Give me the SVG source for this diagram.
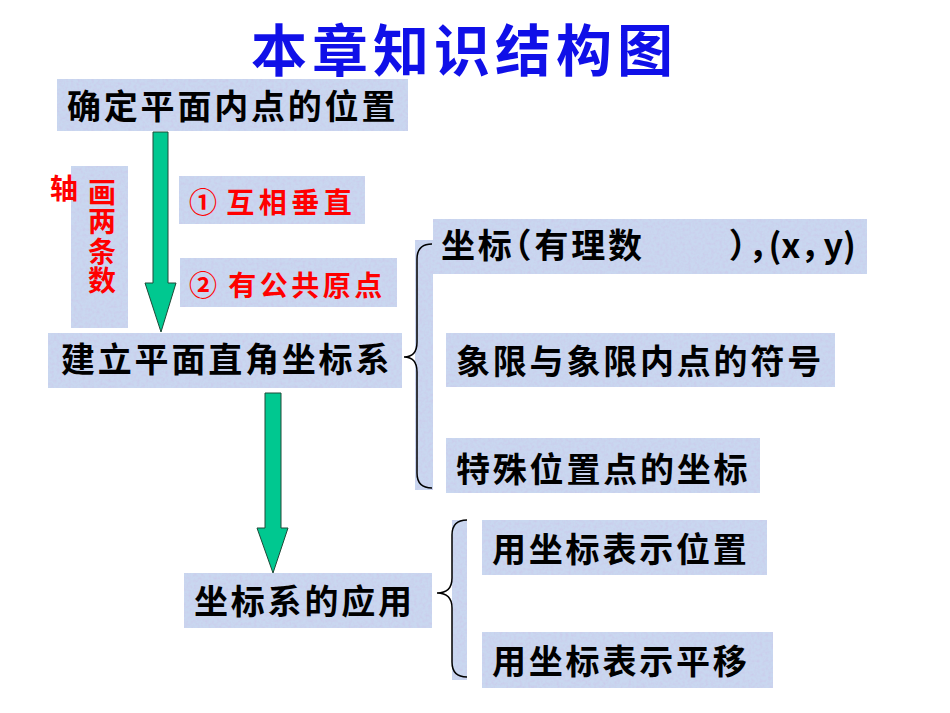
<svg xmlns="http://www.w3.org/2000/svg" width="950" height="713" viewBox="0 0 950 713">
<defs>
<filter id="tex" x="0" y="0" width="100%" height="100%">
  <feTurbulence type="fractalNoise" baseFrequency="0.35" numOctaves="2" seed="7" result="n"/>
  <feColorMatrix in="n" type="matrix" values="0 0 0 0 0.6  0 0 0 0 0.55  0 0 0 0 0.8  0 0 0 1.2 -0.48" result="c"/>
  <feComposite in="c" in2="SourceGraphic" operator="in" result="m"/>
  <feMerge><feMergeNode in="SourceGraphic"/><feMergeNode in="m"/></feMerge>
</filter>
<style>
.box{fill:#C9D7F0;filter:url(#tex);}
.t{font-family:"Noto Sans CJK SC","Liberation Sans",sans-serif;font-weight:700;font-size:34px;letter-spacing:2.8px;fill:#000;}
.r{font-family:"Noto Sans CJK SC","Liberation Sans",sans-serif;font-weight:700;font-size:28px;fill:#F00;}
.title{font-family:"Noto Sans CJK SC",sans-serif;font-weight:700;font-size:56px;letter-spacing:5px;fill:#1010E8;}
.arrow{fill:#00C890;stroke:#1E4A38;stroke-width:1;}
.brace{fill:none;stroke:#000;stroke-width:1.5;}
.halt{font-feature-settings:"halt";}
</style>
</defs>
<rect width="950" height="713" fill="#fff"/>

<g id="title"><text class="title" x="251" y="71">本章知识结构图</text></g>

<g id="n-determine">
<rect class="box" x="57" y="79" width="351" height="52"/>
<text class="t" x="67" y="119">确定平面内点的位置</text>
</g>

<g id="n-draw-two">
<rect class="box" x="71" y="166" width="57" height="162"/>
<text class="r" x="102" y="178" writing-mode="vertical-rl" letter-spacing="1.5">画两条数</text>
</g>

<g id="n-axis">
<text class="r" x="50" y="199">轴</text>
</g>

<g id="n-perp">
<rect class="box" x="179" y="176" width="186" height="48"/>
<text class="r" x="189" y="213">① <tspan dx="3" letter-spacing="4.5">互相垂直</tspan></text>
</g>

<g id="n-origin">
<rect class="box" x="180" y="258" width="217" height="49"/>
<text class="r" x="189" y="296">② <tspan dx="5" letter-spacing="3.5">有公共原点</tspan></text>
</g>

<g id="n-build">
<rect class="box" x="48" y="333" width="354" height="55"/>
<text class="t" x="61" y="372">建立平面直角坐标系</text>
</g>

<g id="n-coord">
<rect class="box" x="433" y="219" width="434" height="55"/>
<text class="t halt" x="441" y="258">坐标（有理数<tspan dx="84">），</tspan><tspan letter-spacing="0">(x，<tspan dx="6">y)</tspan></tspan></text>
</g>

<g id="n-quadrant">
<rect class="box" x="446" y="333" width="389" height="54"/>
<text class="t" x="456" y="374">象限与象限内点的符号</text>
</g>

<g id="n-special">
<rect class="box" x="446" y="438" width="314" height="55"/>
<text class="t" x="456" y="482">特殊位置点的坐标</text>
</g>

<g id="n-apply">
<rect class="box" x="184" y="573" width="248" height="55"/>
<text class="t" x="194" y="614">坐标系的应用</text>
</g>

<g id="n-pos">
<rect class="box" x="482" y="520" width="285" height="55"/>
<text class="t" x="492" y="562">用坐标表示位置</text>
</g>

<g id="n-move">
<rect class="box" x="482" y="632" width="291" height="56"/>
<text class="t" x="492" y="674">用坐标表示平移</text>
</g>

<g id="connectors">
<polygon class="arrow" points="153,132 168,132 168,283 176,283 161,332 145,283 153,283"/>
<polygon class="arrow" points="265,393 281,393 281,528 288,528 273,573 257,528 265,528"/>
<rect class="box" x="415" y="240" width="18" height="250"/>
<path class="brace" d="M432,244 Q417,244 417,259 L417,342 Q417,357 404,357 Q417,357 417,372 L417,473 Q417,488 432,488"/>
<rect class="box" x="452" y="520" width="15" height="160"/>
<path class="brace" d="M467,520 Q452,520 452,535 L452,578 Q452,593 437,593 Q452,593 452,608 L452,662 Q452,677 467,677"/>
</g>
</svg>
